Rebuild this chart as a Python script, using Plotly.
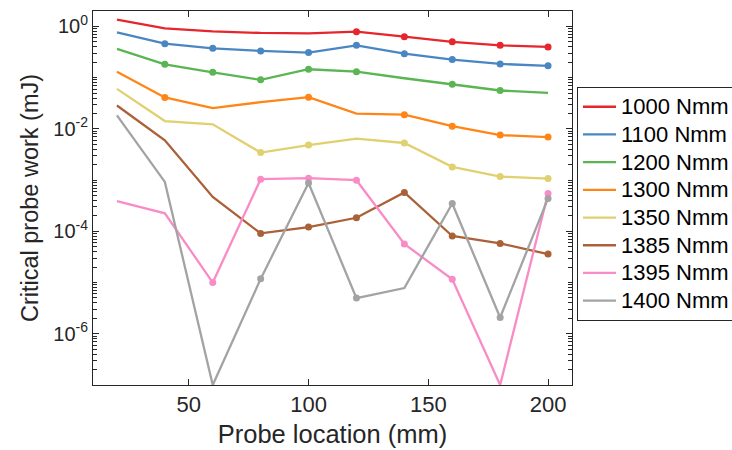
import plotly.graph_objects as go

# ---- data ----
probe_location = [20, 40, 60, 80, 100, 120, 140, 160, 180, 200]
series_names = ["1000 Nmm", "1100 Nmm", "1200 Nmm", "1300 Nmm",
                "1350 Nmm", "1385 Nmm", "1395 Nmm", "1400 Nmm"]
w1000 = [1.35, 0.914, 0.80, 0.745, 0.73, 0.79, 0.63, 0.50, 0.427, 0.397]
w1100 = [0.764, 0.46, 0.373, 0.332, 0.308, 0.427, 0.294, 0.225, 0.185, 0.17]
w1200 = [0.363, 0.182, 0.127, 0.0906, 0.146, 0.131, 0.0973, 0.0744, 0.0561, 0.0506]
w1300 = [0.131, 0.041, 0.0254, 0.0332, 0.0416, 0.0198, 0.0189, 0.0113, 0.00757, 0.00692]
w1350 = [0.0605, 0.0142, 0.01224, 0.00344, 0.00484, 0.00645, 0.0053, 0.00181, 0.00117, 0.00107]
w1385 = [0.0286, 0.00597, 4.7e-4, 9.1e-5, 1.21e-4, 1.84e-4, 5.74e-4, 8.1e-5, 5.8e-5, 3.6e-5]
w1395 = [3.89e-4, 2.24e-4, 1.0e-5, 1.04e-3, 1.09e-3, 9.95e-4, 5.66e-5, 1.16e-5, 1e-7, 5.5e-4]
w1400 = [0.0183, 9.2e-4, 1e-7, 1.18e-5, 8.8e-4, 4.97e-6, 7.8e-6, 3.5e-4, 2.08e-6, 4.39e-4]

# which points carry a marker
m1000 = [0, 0, 0, 0, 0, 1, 1, 1, 1, 1]
m1100 = [0, 1, 1, 1, 1, 1, 1, 1, 1, 1]
m1200 = [0, 1, 1, 1, 1, 1, 0, 1, 1, 0]
m1300 = [0, 1, 0, 0, 1, 0, 1, 1, 1, 1]
m1350 = [0, 0, 0, 1, 1, 0, 1, 1, 1, 1]
m1385 = [0, 0, 0, 1, 1, 1, 1, 1, 1, 1]
m1395 = [0, 0, 1, 1, 1, 1, 1, 1, 0, 1]
m1400 = [0, 0, 0, 1, 1, 1, 0, 1, 1, 1]

y_tick_vals = [1e-6, 1e-4, 1e-2, 1]
y_tick_text = ["10<sup>-6</sup>", "10<sup>-4</sup>", "10<sup>-2</sup>", "10<sup>0</sup>"]
x_tick_vals = [50, 100, 150, 200]

colors = ["#e6262d", "#4a87c2", "#5ab553", "#ff8616", "#e0d070", "#ab6137", "#f98bc6", "#a3a3a3"]
values = [w1000, w1100, w1200, w1300, w1350, w1385, w1395, w1400]
marks = [m1000, m1100, m1200, m1300, m1350, m1385, m1395, m1400]

# minor tick positions: every mantissa 1..9 of each decade (skipping the labelled ones)
minor_vals = [m * 10.0 ** e for e in range(-7, 1) for m in range(1, 10)
              if not (m == 1 and e % 2 == 0)]

FONT = "Liberation Sans, Arial, sans-serif"
INK = "#262626"

fig = go.Figure()
for name, vals, mk, col in zip(series_names, values, marks, colors):
    fig.add_trace(go.Scatter(x=probe_location, y=vals, mode="lines",
                             name='<span style="font-size:22px">' + name + '</span>',
                             line=dict(color=col, width=2.3), cliponaxis=True))
    mx = [x for x, f in zip(probe_location, mk) if f]
    my = [y for y, f in zip(vals, mk) if f]
    fig.add_trace(go.Scatter(x=mx, y=my, mode="markers", showlegend=False,
                             marker=dict(color=col, size=7), cliponaxis=True))

fig.update_layout(
    width=732, height=450,
    margin=dict(l=93, r=160, t=11, b=65, autoexpand=False),
    paper_bgcolor="white", plot_bgcolor="white",
    font=dict(family=FONT, color=INK),
    showlegend=True,
    legend=dict(x=1.0104, y=0.797, xanchor="left", yanchor="top",
                bgcolor="white", bordercolor=INK, borderwidth=1,
                font=dict(size=19, family=FONT, color="black"),
                itemwidth=33, tracegroupgap=0),
    xaxis=dict(range=[10, 210], tickvals=x_tick_vals, ticks="inside", ticklen=6,
               tickcolor=INK, showline=True, linecolor=INK, linewidth=1, mirror="ticks",
               showgrid=False, zeroline=False,
               tickfont=dict(size=22, family=FONT, color=INK),
               title=dict(text="Probe location (mm)", font=dict(size=25.5, family=FONT, color=INK),
                          standoff=8)),
    yaxis=dict(type="log", range=[-7, 0.30103], tickvals=y_tick_vals, ticktext=y_tick_text,
               ticks="inside", ticklen=6, tickcolor=INK,
               minor=dict(ticks="inside", ticklen=4, tickcolor=INK, tickmode="array",
                          tickvals=minor_vals, showgrid=False),
               showline=True, linecolor=INK, linewidth=1, mirror="ticks",
               showgrid=False, zeroline=False,
               tickfont=dict(size=20, family=FONT, color=INK),
               title=dict(text="Critical probe work (mJ)", font=dict(size=23.5, family=FONT, color=INK),
                          standoff=8)),
)

fig.write_html("out.html")
